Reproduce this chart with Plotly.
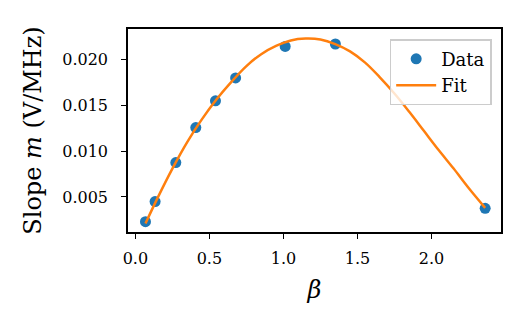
import plotly.graph_objects as go

beta_data = [0.068, 0.133, 0.273, 0.408, 0.541, 0.677, 1.012, 1.351, 2.363]
slope_data = [0.0023, 0.00449, 0.00875, 0.01258, 0.0155, 0.0180, 0.02144, 0.02171, 0.00376]

# curva del ajuste
beta_fit = [0.068, 0.15, 0.25, 0.35, 0.45, 0.55, 0.65, 0.75, 0.85, 0.95, 1.05, 1.15,
            1.25, 1.35, 1.45, 1.55, 1.65, 1.75, 1.85, 1.95, 2.05, 2.15, 2.25, 2.363]
slope_fit = [0.0021, 0.0049, 0.0081, 0.0110, 0.0135, 0.0157, 0.0176, 0.0193, 0.0206, 0.0215,
             0.0221, 0.0223, 0.0222, 0.0217, 0.0209, 0.0197, 0.0181, 0.0163, 0.0143, 0.0122,
             0.0101, 0.0081, 0.0060, 0.0038]

text_color = "black"
font_family = "DejaVu Serif"

fig = go.Figure()
fig.add_trace(go.Scatter(x=beta_data, y=slope_data, mode="markers", name="Data",
                         legendgroup="data",
                         marker=dict(color="#1f77b4", size=11)))
fig.add_trace(go.Scatter(x=beta_fit, y=slope_fit, mode="lines", name="Fit",
                         legendgroup="fit",
                         line=dict(color="#ff7f0e", width=2.5, shape="spline")))

axis_style = dict(
    showline=True, linecolor="black", linewidth=1.5, mirror=True,
    ticks="outside", ticklen=5, tickwidth=1.3, tickcolor="black",
    showgrid=False, zeroline=False, automargin=False,
    tickfont=dict(family=font_family, size=16, color=text_color),
    title_font=dict(family=font_family, size=24, color=text_color),
)

# la pagina tiene 8px de margen en el body, se descuentan aqui
fig.update_layout(
    width=514, height=317,
    plot_bgcolor="white", paper_bgcolor="white",
    margin=dict(l=120, r=21, t=21, b=93),
    showlegend=True,
    legend=dict(
        x=0.975, y=0.95, xanchor="right", yanchor="top",
        bgcolor="rgba(255,255,255,0.8)", bordercolor="#cccccc", borderwidth=1.5,
        font=dict(family=font_family, size=18, color=text_color),
        itemwidth=40, tracegroupgap=0,
    ),
    xaxis=dict(axis_style, range=[-0.05, 2.47], dtick=0.5, tick0=0, tickformat=".1f",
               ticklabelstandoff=6,
               title=dict(text="<i>β</i>", standoff=14)),
    yaxis=dict(axis_style, range=[0.00117, 0.02335], dtick=0.005, tick0=0, tickformat=".3f",
               ticklabelstandoff=10,
               title=dict(text="Slope <i>m</i> (V/MHz)", standoff=14)),
)

fig.write_html("out.html")
